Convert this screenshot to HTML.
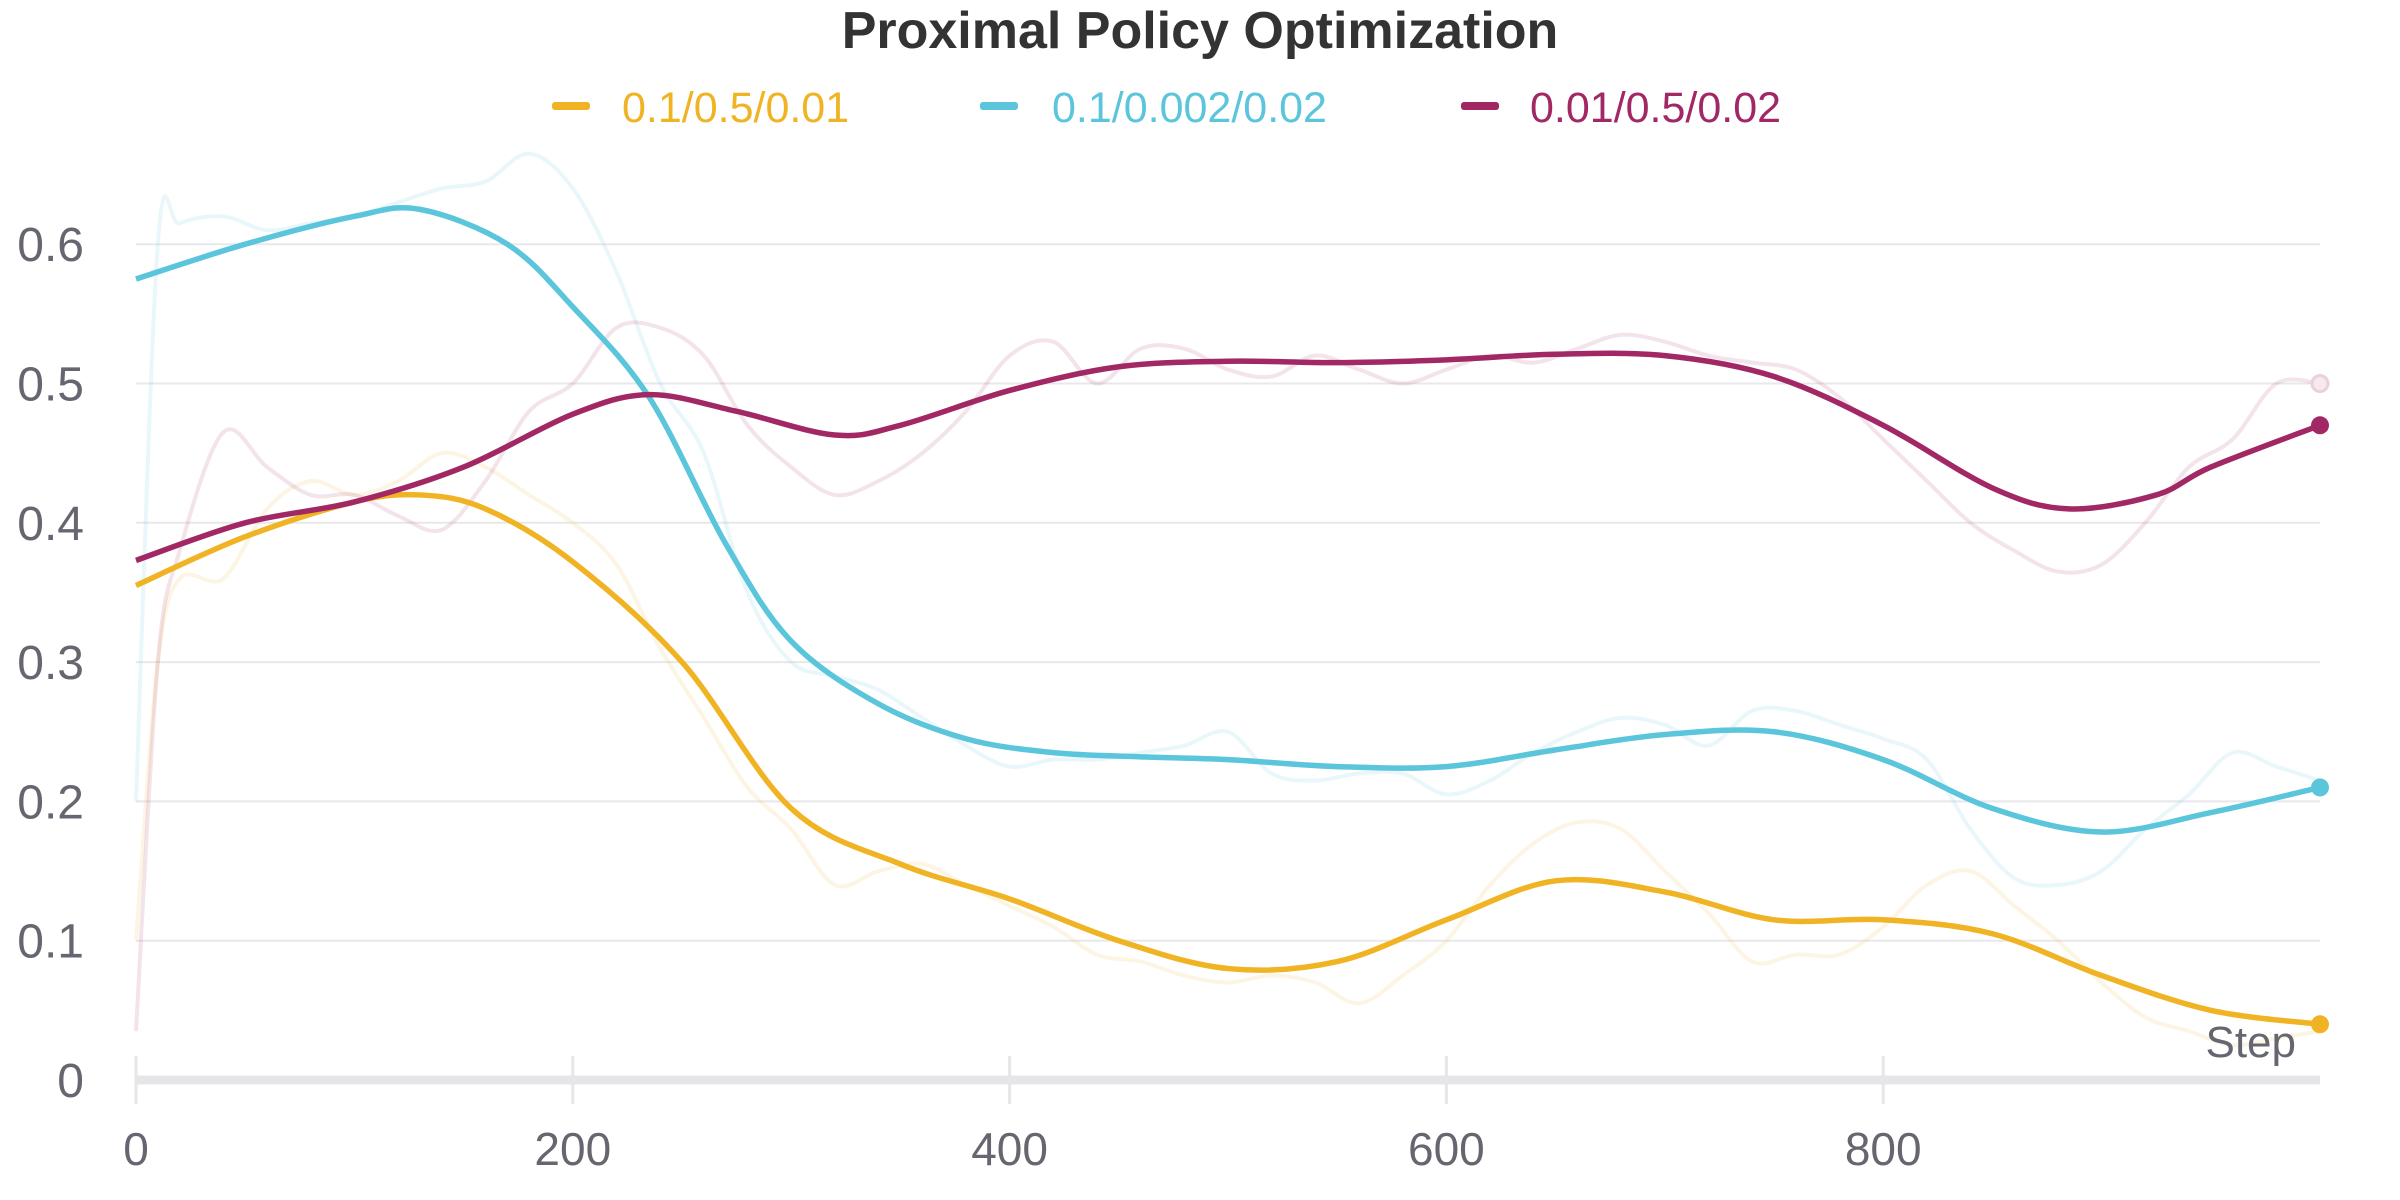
<!DOCTYPE html>
<html><head><meta charset="utf-8">
<style>
html,body{margin:0;padding:0;background:#fff;}
svg{display:block;font-family:"Liberation Sans",sans-serif;}
</style></head>
<body>
<svg id="chart" width="2400" height="1200" viewBox="0 0 2400 1200" xmlns="http://www.w3.org/2000/svg">
<text x="1200" y="48" text-anchor="middle" font-size="52" font-weight="bold" fill="#333">Proximal Policy Optimization</text>
<g>
<g><rect x="552" y="102" width="38" height="8" rx="3" fill="#f0b323"/><text x="622" y="122" font-size="43" fill="#f0b323">0.1/0.5/0.01</text></g>
<g><rect x="980" y="102" width="38" height="8" rx="3" fill="#5bc5db"/><text x="1052" y="122" font-size="43" fill="#5bc5db">0.1/0.002/0.02</text></g>
<g><rect x="1461" y="102" width="38" height="8" rx="3" fill="#a12864"/><text x="1530" y="122" font-size="43" fill="#a12864">0.01/0.5/0.02</text></g>
</g>
<g id="grid"></g>
<g id="axes"></g>
<g id="series"></g>
<text x="2296" y="1057" text-anchor="end" font-size="44" fill="#666670">Step</text>
</svg>
<script>
const yTicks = [0, 0.1, 0.2, 0.3, 0.4, 0.5, 0.6];
const yTickLabels = ["0", "0.1", "0.2", "0.3", "0.4", "0.5", "0.6"];
const xTicks = [0, 200, 400, 600, 800];
const xTickLabels = ["0", "200", "400", "600", "800"];

const smoothYellowSteps = [0,50,100,130,160,200,250,300,350,400,450,500,550,600,650,700,750,800,850,900,950,1000];
const smoothYellow = [0.355,0.39,0.415,0.42,0.41,0.372,0.30,0.195,0.155,0.13,0.10,0.08,0.085,0.115,0.143,0.135,0.115,0.115,0.105,0.075,0.05,0.04];
const smoothCyanSteps = [0,50,100,130,170,200,235,270,300,340,380,420,460,500,550,600,650,700,750,800,850,900,950,1000];
const smoothCyan = [0.575,0.60,0.62,0.625,0.60,0.555,0.49,0.385,0.315,0.27,0.245,0.235,0.232,0.23,0.225,0.225,0.237,0.248,0.25,0.23,0.195,0.178,0.192,0.21];
const smoothMagentaSteps = [0,50,100,150,200,235,275,320,350,400,450,500,550,600,650,700,750,800,850,885,925,950,1000];
const smoothMagenta = [0.373,0.40,0.415,0.44,0.478,0.492,0.48,0.463,0.47,0.495,0.512,0.516,0.515,0.517,0.521,0.52,0.505,0.47,0.425,0.41,0.42,0.44,0.47];

const rawSteps = [0,10,20,40,60,80,100,120,140,160,180,200,220,240,260,280,300,320,340,360,380,400,420,440,460,480,500,520,540,560,580,600,620,640,660,680,700,720,740,760,780,800,820,840,860,880,900,920,940,960,980,1000];
const rawYellow = [0.1,0.3,0.36,0.36,0.41,0.43,0.42,0.43,0.45,0.44,0.42,0.4,0.37,0.31,0.26,0.21,0.18,0.14,0.15,0.155,0.14,0.125,0.11,0.09,0.085,0.075,0.07,0.075,0.07,0.055,0.075,0.1,0.14,0.17,0.185,0.18,0.15,0.12,0.085,0.09,0.09,0.11,0.14,0.15,0.125,0.1,0.07,0.045,0.035,0.025,0.03,0.035];
const rawCyan = [0.2,0.6,0.615,0.62,0.61,0.615,0.62,0.63,0.64,0.645,0.665,0.64,0.58,0.5,0.45,0.35,0.3,0.29,0.28,0.26,0.24,0.225,0.23,0.23,0.235,0.24,0.25,0.22,0.215,0.22,0.22,0.205,0.215,0.235,0.25,0.26,0.255,0.24,0.265,0.265,0.255,0.245,0.23,0.18,0.145,0.14,0.15,0.18,0.205,0.235,0.225,0.215];
const rawMagenta = [0.035,0.3,0.38,0.465,0.44,0.42,0.42,0.405,0.395,0.43,0.48,0.5,0.54,0.54,0.52,0.47,0.44,0.42,0.43,0.45,0.48,0.52,0.53,0.5,0.525,0.525,0.51,0.505,0.52,0.51,0.5,0.51,0.52,0.515,0.525,0.535,0.53,0.52,0.515,0.51,0.49,0.46,0.43,0.4,0.38,0.365,0.37,0.4,0.44,0.46,0.5,0.5];

const NS = "http://www.w3.org/2000/svg";
const X0 = 136, X1 = 2320, Y0 = 1080, YPER = 1393;
function xScale(s){ return X0 + (X1 - X0) * s / 1000; }
function yScale(v){ return Y0 - YPER * v; }
function mk(tag, attrs, parent){ const e = document.createElementNS(NS, tag); for (const k in attrs) e.setAttribute(k, attrs[k]); parent.appendChild(e); return e; }

const grid = document.getElementById('grid');
yTicks.forEach((t, i) => {
  if (t > 0) {
    const l = mk('line', {x1: X0, x2: X1, y1: yScale(t), y2: yScale(t), stroke: '#e8e8ec', 'stroke-width': 2}, grid);
    
    
  }
  const tx = mk('text', {x: 84, y: yScale(t) + 17, 'text-anchor': 'end', 'font-size': 48, fill: '#666670'}, grid);
  tx.textContent = yTickLabels[i];
  
  
});
const axes = document.getElementById('axes');
const ax = mk('line', {x1: X0, x2: X1, y1: Y0, y2: Y0, stroke: '#e6e6e8', 'stroke-width': 9}, axes);


xTicks.forEach((t, i) => {
  const tk = mk('line', {x1: xScale(t), x2: xScale(t), y1: 1056, y2: 1104, stroke: '#e6e6e8', 'stroke-width': 3}, axes);
  
  
  const tx = mk('text', {x: xScale(t), y: 1165, 'text-anchor': 'middle', 'font-size': 46, fill: '#666670'}, axes);
  tx.textContent = xTickLabels[i];
  
  
});

function pathD(steps, vals){
  const p = steps.map((s, i) => [xScale(s), yScale(vals[i])]);
  let d = 'M' + p[0][0] + ',' + p[0][1];
  for (let i = 0; i < p.length - 1; i++) {
    const a = p[Math.max(0, i - 1)], b = p[i], c = p[i + 1], e = p[Math.min(p.length - 1, i + 2)];
    const c1x = b[0] + (c[0] - a[0]) / 6, c1y = b[1] + (c[1] - a[1]) / 6;
    const c2x = c[0] - (e[0] - b[0]) / 6, c2y = c[1] - (e[1] - b[1]) / 6;
    d += ' C' + c1x + ',' + c1y + ' ' + c2x + ',' + c2y + ' ' + c[0] + ',' + c[1];
  }
  return d;
}
const series = document.getElementById('series');
const cfg = [
  ['yellow', '#f0b323', rawYellow, smoothYellowSteps, smoothYellow],
  ['cyan', '#5bc5db', rawCyan, smoothCyanSteps, smoothCyan],
  ['magenta', '#a12864', rawMagenta, smoothMagentaSteps, smoothMagenta]
];
cfg.forEach(c => {
  const r = mk('path', {d: pathD(rawSteps, c[2]), fill: 'none', stroke: c[1], 'stroke-opacity': 0.13, 'stroke-width': 4}, series);
  
  
});
const rm = mk('circle', {cx: xScale(rawSteps[rawSteps.length-1]), cy: yScale(rawMagenta[rawMagenta.length-1]), r: 8, fill: '#f6e9ef', stroke: '#ead0dc', 'stroke-width': 3}, series);


cfg.forEach(c => {
  const s = mk('path', {d: pathD(c[3], c[4]), fill: 'none', stroke: c[1], 'stroke-width': 5.5}, series);
  
  
  const n = c[3].length - 1;
  const dot = mk('circle', {cx: xScale(c[3][n]), cy: yScale(c[4][n]), r: 9, fill: c[1]}, series);
  
  
});
</script>
</body></html>
